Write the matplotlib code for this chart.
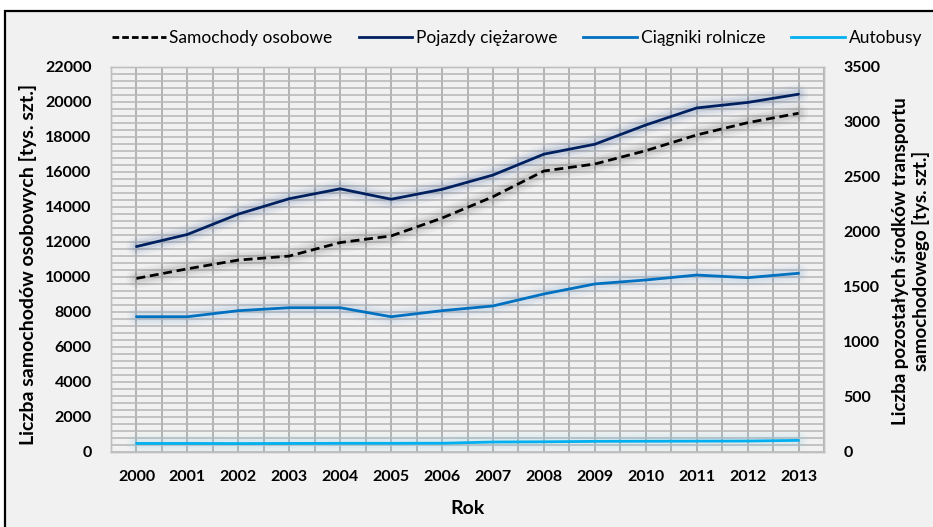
import matplotlib
matplotlib.use("Agg")
import matplotlib.pyplot as plt
from matplotlib.patches import Rectangle
from matplotlib.ticker import MultipleLocator
from matplotlib.lines import Line2D
import numpy as np

years = [2000, 2001, 2002, 2003, 2004, 2005, 2006, 2007, 2008, 2009, 2010, 2011, 2012, 2013]
samochody = [9900, 10450, 10950, 11180, 11950, 12330, 13350, 14570, 16040, 16440, 17200, 18100, 18800, 19340]
ciezarowe = [1865, 1975, 2160, 2300, 2390, 2295, 2385, 2515, 2705, 2795, 2970, 3125, 3175, 3250]
ciagniki = [1227, 1227, 1282, 1309, 1309, 1227, 1282, 1325, 1434, 1525, 1561, 1606, 1582, 1622]
autobusy = [75, 75, 74, 75, 76, 76, 77, 88, 90, 94, 95, 96, 97, 103]

labels = ["Samochody osobowe", "Pojazdy ciężarowe", "Ciągniki rolnicze", "Autobusy"]
colors = ["#000000", "#002060", "#0070C0", "#00B0F0"]
glow = ["#505050", "#3A5A9A", "#6A9AD0", "#7CCBEA"]

FONT = "Lato"
W, H = 933, 527
fig = plt.figure(figsize=(W / 100, H / 100), dpi=100, facecolor="white")

# outer frame
fig.patches.append(Rectangle((4.5 / W, -0.05), 1.2, 1 - 10.5 / H + 0.05,
                             transform=fig.transFigure, facecolor="#F1F1F1",
                             edgecolor="black", linewidth=1.6, zorder=-10))

L, R, T, B = 111, 824, 66.7, 451.7
ax = fig.add_axes([L / W, 1 - B / H, (R - L) / W, (B - T) / H])
ax.set_facecolor("none")
ax2 = ax.twinx()
ax2.set_facecolor("none")

x = np.arange(len(years))

ax.set_xlim(-0.5, len(years) - 0.5)
ax.set_ylim(0, 22000)
ax2.set_ylim(0, 3500)

ax.set_xticks(x)
ax.set_xticklabels([str(y) for y in years])
ax.xaxis.set_minor_locator(MultipleLocator(0.5))
ax.yaxis.set_major_locator(MultipleLocator(2000))
ax.yaxis.set_minor_locator(MultipleLocator(400))
ax2.yaxis.set_major_locator(MultipleLocator(500))

ax.grid(which="both", axis="y", color="#BABABA", linewidth=1.2, zorder=0)
ax.grid(which="both", axis="x", color="#A8A8A8", linewidth=1.2, zorder=0)
ax.set_axisbelow(True)

for a in (ax, ax2):
    for s in a.spines.values():
        s.set_color("#BFBFBF")
        s.set_linewidth(1.0)
    a.tick_params(which="both", length=0)

ax.tick_params(axis="y", pad=14)
ax.tick_params(axis="x", pad=13)
ax2.tick_params(axis="y", pad=14)

for lab in ax.get_xticklabels() + ax.get_yticklabels() + ax2.get_yticklabels():
    lab.set_fontfamily(FONT)
    lab.set_fontweight("bold")
    lab.set_fontsize(11.5)

def glow_line(a, y, gc, z):
    for lw, al in [(14, 0.05), (10, 0.07), (6.5, 0.09)]:
        a.plot(x, y, color=gc, lw=lw, alpha=al, solid_capstyle="round", zorder=z)

glow_line(ax, samochody, glow[0], 2)
ax.plot(x, samochody, color=colors[0], lw=2.0, dashes=(3.2, 1.7), zorder=3)

for data, c, g in [(ciezarowe, colors[1], glow[1]), (ciagniki, colors[2], glow[2]), (autobusy, colors[3], glow[3])]:
    glow_line(ax2, data, g, 2)
    ax2.plot(x, data, color=c, lw=2.0, zorder=3, solid_capstyle="round")

lab_font = dict(family=FONT, weight="bold", size=14)
fig.text(467 / W, 1 - 508 / H, "Rok", ha="center", va="center", **lab_font)
fig.text(28 / W, 1 - 264 / H, "Liczba samochodów osobowych [tys. szt.]", rotation=90,
         ha="center", va="center", **lab_font)
fig.text(911 / W, 1 - 261 / H, "Liczba pozostałych środków transportu\nsamochodowego [tys. szt.]",
         rotation=90, ha="center", va="center", multialignment="center",
         linespacing=1.15, family=FONT, weight="bold", size=13.5)

handles = [Line2D([], [], color=colors[0], lw=2.0, dashes=(2.4, 1.1)),
           Line2D([], [], color=colors[1], lw=2.0),
           Line2D([], [], color=colors[2], lw=2.0),
           Line2D([], [], color=colors[3], lw=2.0)]
fig.legend(handles, labels, loc="center", bbox_to_anchor=(517 / W, 1 - 38 / H), ncol=4,
           frameon=False, handlelength=3.1, handletextpad=0.2, columnspacing=1.5,
           prop=dict(family=FONT, size=12.5))

fig.savefig("out.png", dpi=100, facecolor="white")
